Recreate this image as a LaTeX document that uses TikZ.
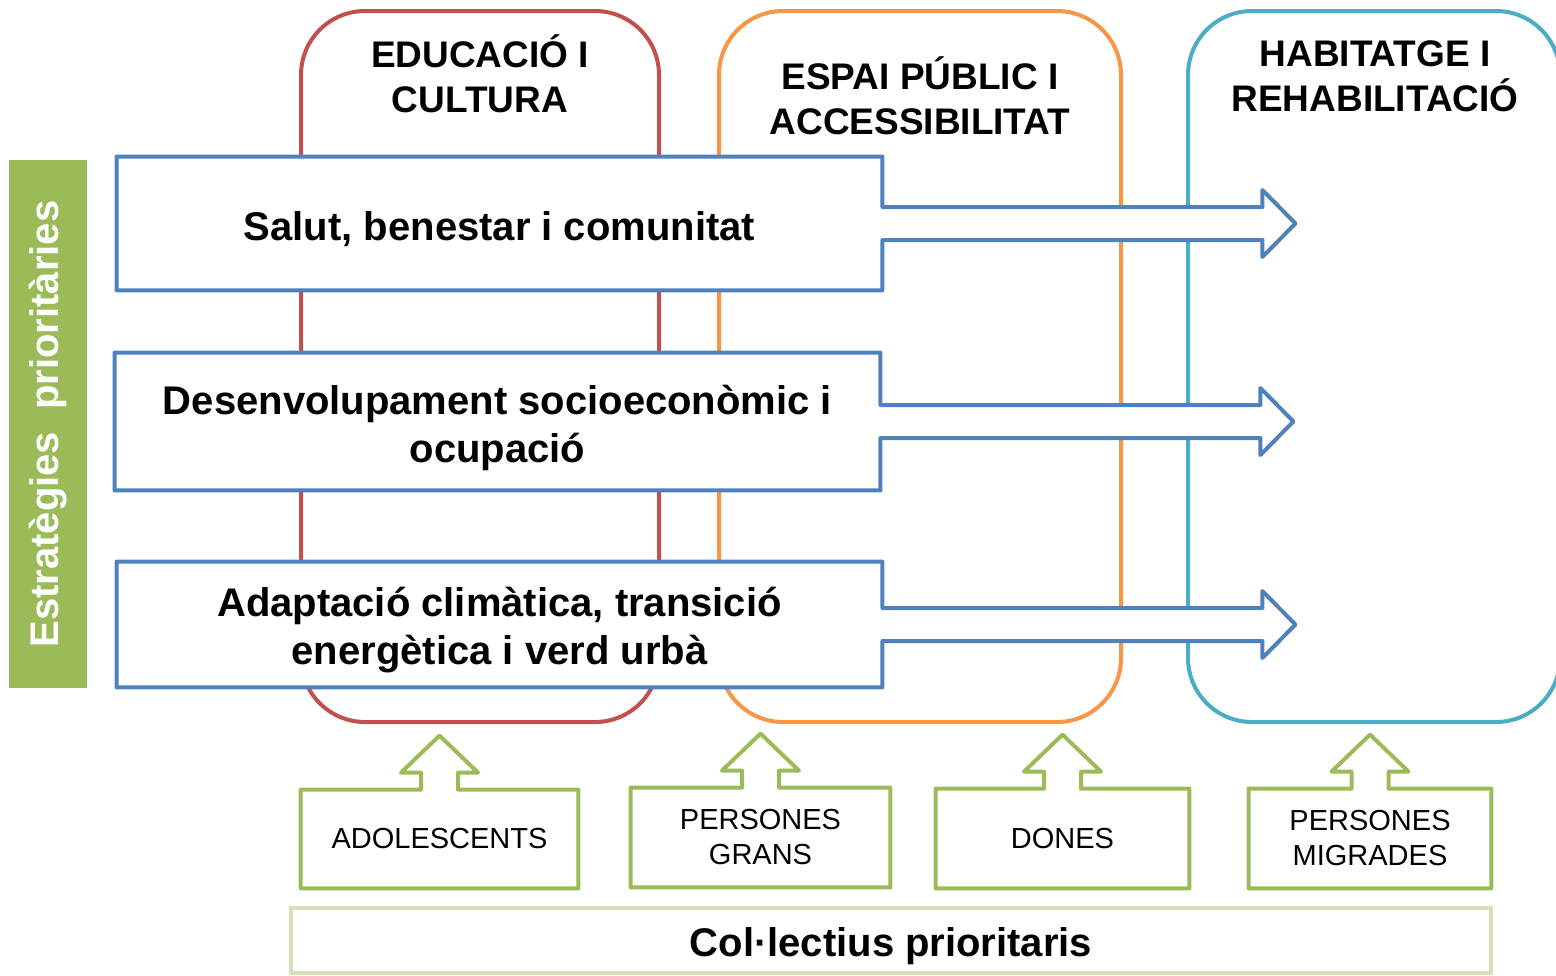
\documentclass[tikz,border=0pt]{standalone}
\usepackage{fontspec}
\setmainfont{Liberation Sans}
\usetikzlibrary{positioning}

\definecolor{stratblue}{RGB}{79,129,189}
\definecolor{edured}{RGB}{192,80,77}
\definecolor{puborange}{RGB}{247,150,70}
\definecolor{habteal}{RGB}{75,172,198}
\definecolor{colgreen}{RGB}{155,187,89}
\definecolor{colpale}{RGB}{212,226,184}

\pgfdeclarelayer{back}
\pgfdeclarelayer{mid}
\pgfsetlayers{back,mid,main}

\tikzset{
  topic/.style={draw=#1, line width=2pt, rounded corners=32pt, minimum height=355.5pt, inner sep=0pt},
  heading/.style={font=\fontsize{18.5}{22.5}\selectfont\bfseries, align=center, inner sep=0pt},
  stratbox/.style={minimum width=382.5pt, inner sep=0pt},
  strattext/.style={inner sep=0pt, align=center, font=\fontsize{20}{24}\selectfont\bfseries},
  stratline/.style={draw=stratblue, fill=white, line width=2pt, line join=round},
  group/.style={inner sep=0pt, align=center, font=\fontsize{14.5}{17.5}\selectfont},
  groupline/.style={draw=colgreen, fill=white, line width=2pt, line join=round},
}

\begin{document}
\begin{tikzpicture}[x=0.5pt,y=-0.5pt]
	\useasboundingbox (0,0) rectangle (1556,975);
	% eixos tematics
	\begin{pgfonlayer}{back}
	\node[topic=edured, minimum width=179pt] (edu) at (480,366.5) {};
	\node[topic=puborange, minimum width=201pt] (pub) at (920,366.5) {};
	\node[topic=habteal, minimum width=186pt] (hab) at (1374,366.5) {};
	\end{pgfonlayer}
	\node[heading] (eduT) at (480,73.5) {EDUCACIÓ I\\CULTURA};
	\node[heading] (pubT) at (920,96) {ESPAI PÚBLIC I\\ACCESSIBILITAT};
	\node[heading] (habT) at (1375,76.5) {HABITATGE I\\REHABILITACIÓ};
	% estrategies
	\node[fill=colgreen, rotate=90, minimum width=264pt, minimum height=39pt, inner sep=0pt,
		text=white, font=\fontsize{20}{24}\selectfont\bfseries] (estr) at (48,424) {Estratègies\ \ prioritàries};
	\node[stratbox, minimum height=66.5pt] (s1) at (499.5,223.5) {};
	\node[stratbox, minimum height=68.5pt] (s2) at (497.5,421.5) {};
	\node[stratbox, minimum height=62.5pt] (s3) at (499.5,624.5) {};
	\begin{pgfonlayer}{mid}
	\foreach \s in {s1,s2,s3}
		\draw[stratline] (\s.north west) -- (\s.north east) -- ([yshift=8.25pt]\s.east)
			-- ++(380,0) -- ++(0,-17) -- ++(33,33.5) -- ++(-33,33.5) -- ++(0,-17) -- ++(-380,0)
			-- (\s.south east) -- (\s.south west) -- cycle;
	\end{pgfonlayer}
	\node[strattext] (s1T) at ([yshift=-3pt]s1) {Salut, benestar i comunitat};
	\node[strattext] (s2T) at ([yshift=-3pt]s2) {Desenvolupament socioeconòmic i\\ocupació};
	\node[strattext] (s3T) at ([yshift=-3pt]s3) {Adaptació climàtica, transició\\energètica i verd urbà};
	% col.lectius
	\node[group, minimum width=138.5pt, minimum height=49pt] (g1) at (439.5,839) {ADOLESCENTS};
	\node[group, minimum width=129.5pt, minimum height=49.5pt] (g2) at (760.5,837.5) {PERSONES\\GRANS};
	\node[group, minimum width=126.5pt, minimum height=49.5pt] (g3) at (1062.5,838.5) {DONES};
	\node[group, minimum width=121pt, minimum height=49.5pt] (g4) at (1370,838.5) {PERSONES\\MIGRADES};
	\begin{pgfonlayer}{mid}
	\foreach \g in {g1,g2,g3,g4}
		\draw[groupline] (\g.north west) -- ([xshift=-9.25pt]\g.north) -- ++(0,-17) -- ++(-20,0)
			-- ++(38.5,-37) -- ++(38.5,37) -- ++(-20,0) -- ++(0,17)
			-- (\g.north east) -- (\g.south east) -- (\g.south west) -- cycle;
	\end{pgfonlayer}
	\node[draw=colpale, line width=2pt, minimum width=600pt, minimum height=32.5pt, inner sep=0pt] (col) at (891,940.5) {};
	\node[strattext] (colT) at ([yshift=-3pt]col) {Col·lectius prioritaris};
\end{tikzpicture}
\end{document}
